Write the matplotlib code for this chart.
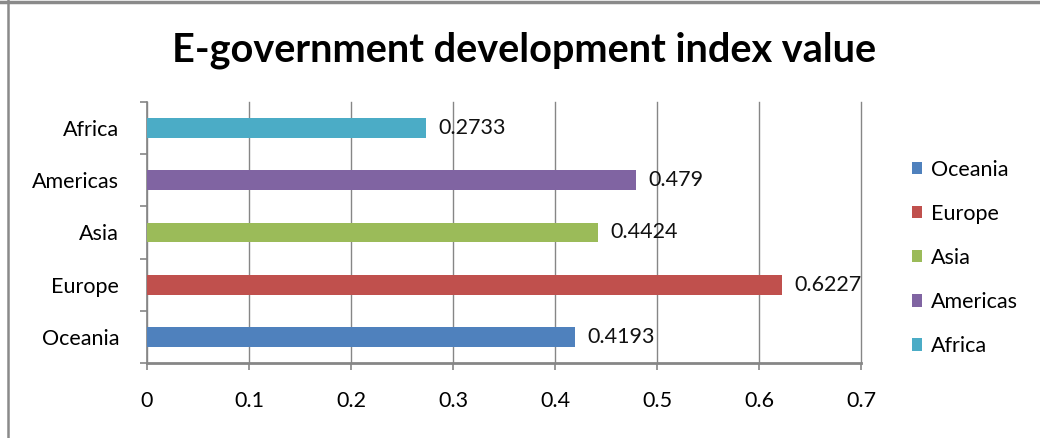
import matplotlib
matplotlib.use("Agg")
import matplotlib.pyplot as plt
from matplotlib.lines import Line2D
from matplotlib.patches import Patch

# Data
regions = ["Oceania", "Europe", "Asia", "Americas", "Africa"]
values = [0.4193, 0.6227, 0.4424, 0.479, 0.2733]
value_labels = ["0.4193", "0.6227", "0.4424", "0.479", "0.2733"]
colors = ["#4F81BD", "#C0504D", "#9BBB59", "#8064A2", "#4BACC6"]
x_ticks = [0, 0.1, 0.2, 0.3, 0.4, 0.5, 0.6, 0.7]
x_tick_labels = ["0", "0.1", "0.2", "0.3", "0.4", "0.5", "0.6", "0.7"]

plt.rcParams["font.family"] = ["Lato", "DejaVu Sans"]

GRAY = "#868686"
FS = 15.5

fig = plt.figure(figsize=(10.4, 4.38), dpi=100)
ax = fig.add_axes([147 / 1040, 1 - 363 / 438, (861 - 147) / 1040, (363 - 102) / 438])

pos = list(range(len(regions)))
ax.barh(pos, values, height=0.38, color=colors, zorder=3)

for p, v, lab in zip(pos, values, value_labels):
    ax.annotate(lab, (v, p), xytext=(9, 0), textcoords="offset points",
                va="center", ha="left", fontsize=FS, color="#111111")

ax.set_xlim(0, 0.7)
ax.set_ylim(-0.5, len(regions) - 0.5)
ax.set_xticks(x_ticks)
ax.set_xticklabels(x_tick_labels, fontsize=FS)
ax.set_yticks(pos)
ax.set_yticklabels(regions, fontsize=FS)
ax.set_yticks([p - 0.5 for p in pos] + [len(regions) - 0.5], minor=True)

ax.grid(axis="x", color=GRAY, linewidth=1.0, zorder=0)
for gl in ax.get_xgridlines():
    gl.set_clip_on(False)
ax.tick_params(axis="y", which="major", length=0, pad=20)
ax.tick_params(axis="y", which="minor", length=5, color=GRAY, width=1.2, direction="out")
ax.tick_params(axis="x", which="major", length=5, color=GRAY, width=1.2, pad=15)

for side in ["top", "right"]:
    ax.spines[side].set_visible(False)
ax.spines["left"].set_color(GRAY)
ax.spines["left"].set_linewidth(1.2)
ax.spines["bottom"].set_color(GRAY)
ax.spines["bottom"].set_linewidth(2)

fig.text(0.504, 0.886, "E-government development index value",
         ha="center", va="center", fontsize=28.5, fontweight="bold")

handles = [Patch(facecolor=c, edgecolor="none") for c in colors]
fig.legend(handles, regions, loc="center left", bbox_to_anchor=(903 / 1040, 1 - 258 / 438),
           frameon=False, fontsize=FS, handlelength=0.5, handleheight=0.5,
           handletextpad=0.4, labelspacing=1.12, borderaxespad=0)

# chart border like the spreadsheet frame
fig.add_artist(Line2D([0, 1], [1 - 1.5 / 438] * 2, color="#8A8A8A", linewidth=2.5,
                      transform=fig.transFigure))
fig.add_artist(Line2D([7.5 / 1040] * 2, [0, 1], color="#8A8A8A", linewidth=1.8,
                      transform=fig.transFigure))

fig.savefig("out.png", dpi=100)
